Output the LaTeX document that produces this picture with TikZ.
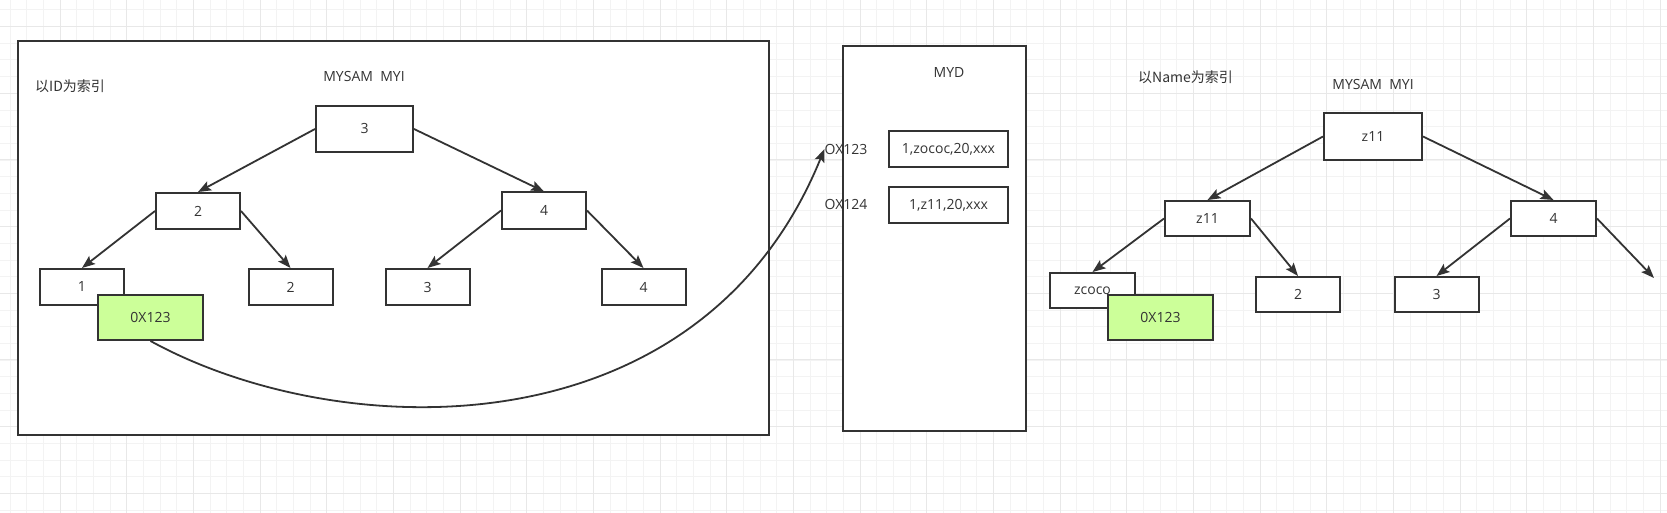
\documentclass[tikz,border=0pt]{standalone}
\usepackage{fontspec}
\setmainfont{Open Sans}
\newfontfamily\cjk{Noto Sans CJK SC}
\usetikzlibrary{arrows.meta}
\definecolor{ink}{HTML}{333333}
\definecolor{keyfill}{HTML}{CCFF99}
\definecolor{gridminor}{HTML}{F3F3F3}
\definecolor{gridmajor}{HTML}{E8E8E8}

\begin{document}
\begin{tikzpicture}[x=1pt,y=-1pt,
  every node/.style={inner sep=0pt, text=ink, font=\fontsize{14}{16}\selectfont},
  panel/.style={draw=ink, line width=2pt, fill=white},
  keybox/.style={draw=ink, line width=2pt, fill=white, minimum width=84pt, minimum height=36pt},
  ptrbox/.style={keybox, fill=keyfill, minimum width=105pt, minimum height=45pt},
  rowbox/.style={keybox, minimum width=119pt},
  link/.style={draw=ink, line width=1.8pt, -{Stealth[length=13pt,width=10pt,inset=2.5pt]}}]
  \useasboundingbox (0,0) rectangle (1667,513);
  \fill[white] (0,0) rectangle (1667,513);
  % grid
  \foreach \gx in {10,26.667,...,1667} \draw[gridminor, line width=1pt] (\gx,0) -- (\gx,513);
  \foreach \gy in {10,26.667,...,513} \draw[gridminor, line width=1pt] (0,\gy) -- (1667,\gy);
  \foreach \gx in {60,126.667,...,1667} \draw[gridmajor, line width=1pt] (\gx,0) -- (\gx,513);
  \foreach \gy in {26.667,93.333,...,513} \draw[gridmajor, line width=1pt] (0,\gy) -- (1667,\gy);

  % index on ID
  \node[panel, minimum width=751pt, minimum height=394pt] (idpanel) at (393.5,238) {};
  \node[anchor=west] (idlabel) at (35,86) {\cjk 以ID为索引};
  \node (idtitle) at (364,77) {MYSAM\ \ MYI};
  \node[keybox, minimum width=97pt, minimum height=46pt] (id3) at (364.5,129) {3};
  \node[keybox] (id2) at (198,211) {2};
  \node[keybox] (id4) at (544,210.5) {4};
  \node[keybox] (id1a) at (82,287) {1};
  \node[keybox] (id2a) at (290.5,287) {2};
  \node[keybox] (id3a) at (427.5,287) {3};
  \node[keybox] (id4a) at (643.5,287) {4};
  \node[ptrbox] (idptr) at (150.5,317.5) {0X123};
  \draw[link] (id3.west) -- (id2.north);
  \draw[link] (id3.east) -- (id4.north);
  \draw[link] (id2.west) -- (id1a.north);
  \draw[link] (id2.east) -- (id2a.north);
  \draw[link] (id4.west) -- (id3a.north);
  \draw[link] (id4.east) -- (id4a.north);

  % data file
  \node[panel, minimum width=183pt, minimum height=385pt] (mydpanel) at (934.5,238.5) {};
  \node (mydtitle) at (949,73) {MYD};
  \node[rowbox] (row1) at (948.5,149) {1,zococ,20,xxx};
  \node[rowbox] (row2) at (948.5,205) {1,z11,20,xxx};
  \node (addr1) at (846,149) {OX123};
  \node (addr2) at (846,204) {OX124};
  \draw[link] (idptr.south) .. controls (340,445) and (700,455) .. (addr1.west);

  % index on Name
  \node (namelabel) at (1185.5,77) {\cjk 以Name为索引};
  \node (nametitle) at (1373,85) {MYSAM\ \ MYI};
  \node[keybox, minimum width=98pt, minimum height=47pt] (nz) at (1373,136.5) {z11};
  \node[keybox, minimum width=85pt, minimum height=35pt] (nz2) at (1207.5,218.5) {z11};
  \node[keybox, minimum width=85pt, minimum height=35pt] (n4) at (1553.5,218.5) {4};
  \node[keybox, minimum width=85pt, minimum height=35pt] (nzc) at (1092.5,290.5) {zcoco};
  \node[keybox, minimum height=35pt] (n2a) at (1298,294.5) {2};
  \node[keybox, minimum height=35pt] (n3a) at (1436.5,294.5) {3};
  \node[ptrbox] (nptr) at (1160.5,317.5) {0X123};
  \coordinate (nend) at (1654,278);
  \draw[link] (nz.west) -- (nz2.north);
  \draw[link] (nz.east) -- (n4.north);
  \draw[link] (nz2.west) -- (nzc.north);
  \draw[link] (nz2.east) -- (n2a.north);
  \draw[link] (n4.west) -- (n3a.north);
  \draw[link] (n4.east) -- (nend);
\end{tikzpicture}
\end{document}
